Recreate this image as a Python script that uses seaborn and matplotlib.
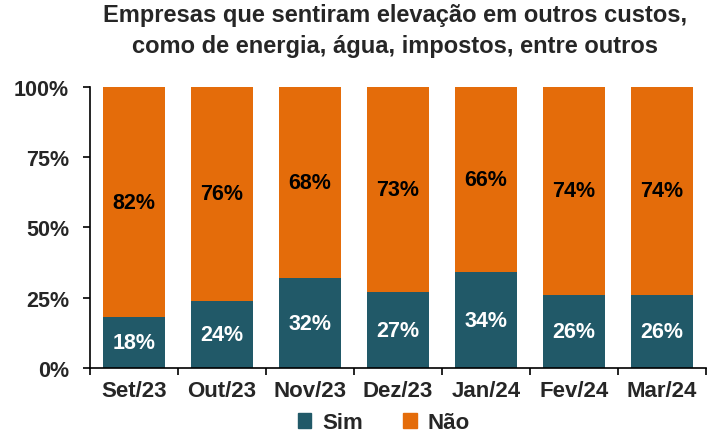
import numpy as np
import pandas as pd
import matplotlib
matplotlib.use("Agg")
import matplotlib.pyplot as plt
import seaborn as sns
from matplotlib.ticker import FixedLocator, PercentFormatter
from matplotlib.patches import Patch

# dados
meses = ["Set/23", "Out/23", "Nov/23", "Dez/23", "Jan/24", "Fev/24", "Mar/24"]
sim = [18, 24, 32, 27, 34, 26, 26]
nao = [82, 76, 68, 73, 66, 74, 74]

cor_sim = "#215968"
cor_nao = "#E46C0A"

sns.set_theme(style="white")
plt.rcParams["font.family"] = ["Liberation Sans", "DejaVu Sans"]

df = pd.DataFrame({"mes": meses, "sim": sim, "nao": nao})
df["total"] = df["sim"] + df["nao"]

fig = plt.figure(figsize=(7.11, 4.39), dpi=100)
ax = fig.add_axes([0.1266, 0.1595, 0.866, 0.64])

# barras empilhadas: total (laranja) por baixo, "Sim" por cima
sns.barplot(data=df, x="mes", y="total", color=cor_nao, width=0.7, saturation=1, linewidth=0, ax=ax)
sns.barplot(data=df, x="mes", y="sim", color=cor_sim, width=0.7, saturation=1, linewidth=0, ax=ax)

for i in range(len(meses)):
    ax.text(i, sim[i] / 2, f"{sim[i]}%", ha="center", va="center",
            color="white", fontsize=15.5, fontweight="bold")
    ax.text(i, sim[i] + nao[i] / 2, f"{nao[i]}%", ha="center", va="center",
            color="black", fontsize=15.5, fontweight="bold")

ax.set_xlim(-0.5, len(meses) - 0.5)
ax.set_ylim(0, 100)
ax.set_yticks([0, 25, 50, 75, 100])
ax.yaxis.set_major_formatter(PercentFormatter(decimals=0))
ax.xaxis.set_minor_locator(FixedLocator(np.arange(-0.5, len(meses), 1.0)))
ax.tick_params(axis="x", which="major", length=0, pad=9, labelsize=16)
ax.tick_params(axis="x", which="minor", length=5, width=1.2, direction="out", color="black", bottom=True)
ax.tick_params(axis="y", length=5, width=1.2, direction="out", color="black", left=True, labelsize=15.5, pad=10)
for lab in ax.get_xticklabels() + ax.get_yticklabels():
    lab.set_fontweight("bold")
ax.set_xlabel("")
ax.set_ylabel("")
sns.despine(ax=ax)
for s in ["left", "bottom"]:
    ax.spines[s].set_color("black")
    ax.spines[s].set_linewidth(1.2)

fig.suptitle("Empresas que sentiram elevação em outros custos,\ncomo de energia, água, impostos, entre outros",
             x=0.555, y=0.99, fontsize=17, fontweight="bold", linespacing=1.45)

handles = [Patch(color=cor_sim, label="Sim"), Patch(color=cor_nao, label="Não")]
fig.legend(handles=handles, loc="lower center", bbox_to_anchor=(0.54, -0.035), ncol=2,
           frameon=False, prop={"size": 16, "weight": "bold"},
           handlelength=0.6, handleheight=0.6, handletextpad=0.5, columnspacing=1.8)

fig.savefig("out.png", dpi=100)
